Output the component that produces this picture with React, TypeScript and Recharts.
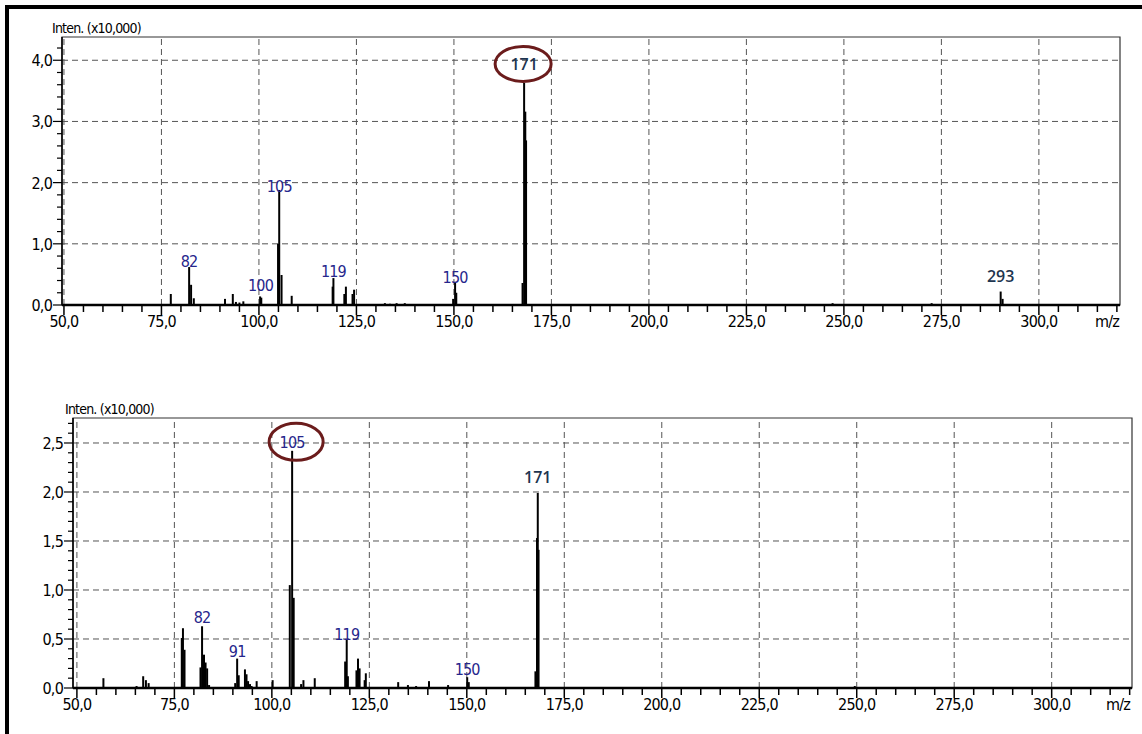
import React from 'react';
import { ComposedChart, XAxis, YAxis, Scatter, ReferenceLine, ReferenceArea } from 'recharts';

// m/z axis ticks (shared by both spectra)
const xMajorTicks = [50, 75, 100, 125, 150, 175, 200, 225, 250, 275, 300];
const xMinorTicks = [
  50, 55, 60, 65, 70, 75, 80, 85, 90, 95, 100, 105, 110, 115, 120, 125, 130, 135, 140, 145,
  150, 155, 160, 165, 170, 175, 180, 185, 190, 195, 200, 205, 210, 215, 220, 225, 230, 235,
  240, 245, 250, 255, 260, 265, 270, 275, 280, 285, 290, 295, 300, 305, 310, 315, 320,
];

// upper spectrum (Inten. x10,000)
const topYMajor = [0, 1, 2, 3, 4];
const topYTicks = [0, 0.2, 0.4, 0.6, 0.8, 1, 1.2, 1.4, 1.6, 1.8, 2, 2.2, 2.4, 2.6, 2.8, 3, 3.2, 3.4, 3.6, 3.8, 4, 4.2];
const topMz = [
  77.4, 82.1, 82.6, 83.3, 91.3, 93.3, 94.1, 95.0, 96.0, 100.3, 100.6, 104.9, 105.2, 105.8,
  108.4, 118.9, 119.1, 121.9, 122.3, 124.0, 124.4, 132.3, 133.6, 135.3, 137.4, 149.8, 150.3,
  150.6, 167.6, 168.0, 168.3, 168.5, 247.1, 272.5, 290.2, 290.7,
];
const topIntensity = [
  0.18, 0.62, 0.33, 0.11, 0.1, 0.18, 0.05, 0.04, 0.06, 0.14, 0.12, 1.0, 1.88, 0.49,
  0.15, 0.3, 0.44, 0.18, 0.3, 0.18, 0.25, 0.03, 0.02, 0.03, 0.03, 0.1, 0.36,
  0.2, 0.36, 3.63, 3.16, 2.69, 0.03, 0.03, 0.22, 0.1,
];
const topLabels = [
  { mz: 82.1, int: 0.62, text: '82', bold: false, circled: false },
  { mz: 100.4, int: 0.14, text: '100', bold: false, circled: false },
  { mz: 105.2, int: 1.88, text: '105', bold: false, circled: false },
  { mz: 119.1, int: 0.44, text: '119', bold: false, circled: false },
  { mz: 150.3, int: 0.36, text: '150', bold: false, circled: false },
  { mz: 168.0, int: 3.63, text: '171', bold: true, circled: true },
  { mz: 290.2, int: 0.22, text: '293', bold: true, circled: false },
];

// lower spectrum
const bottomYMajor = [0, 0.5, 1, 1.5, 2, 2.5];
const bottomYTicks = [
  0, 0.1, 0.2, 0.3, 0.4, 0.5, 0.6, 0.7, 0.8, 0.9, 1, 1.1, 1.2, 1.3, 1.4, 1.5, 1.6, 1.7, 1.8,
  1.9, 2, 2.1, 2.2, 2.3, 2.4, 2.5, 2.6, 2.7,
];
const bottomMz = [
  56.8, 65.3, 67.0, 67.7, 68.4, 76.9, 77.2, 77.6, 81.7, 82.1, 82.6, 83.0, 83.4, 83.9, 90.6,
  91.1, 91.5, 93.1, 93.5, 93.9, 94.4, 94.8, 96.1, 100.2, 104.6, 105.2, 105.6, 107.5, 108.1,
  111.0, 118.8, 119.2, 119.5, 121.7, 122.1, 122.5, 123.8, 124.1, 132.4, 134.9, 137.0, 140.3,
  145.2, 150.1, 150.5, 167.6, 168.0, 168.2, 168.4, 249.5,
];
const bottomIntensity = [
  0.1, 0.02, 0.12, 0.08, 0.05, 0.51, 0.61, 0.39, 0.21, 0.63, 0.34, 0.26, 0.2, 0.03, 0.05,
  0.3, 0.13, 0.19, 0.14, 0.07, 0.04, 0.02, 0.07, 0.08, 1.05, 2.42, 0.92, 0.04, 0.08,
  0.1, 0.27, 0.49, 0.12, 0.18, 0.3, 0.2, 0.08, 0.15, 0.06, 0.03, 0.02, 0.07,
  0.03, 0.11, 0.06, 0.17, 1.53, 1.99, 1.41, 0.02,
];
const bottomLabels = [
  { mz: 82.1, int: 0.63, text: '82', bold: false, circled: false },
  { mz: 91.1, int: 0.3, text: '91', bold: false, circled: false },
  { mz: 105.2, int: 2.42, text: '105', bold: false, circled: true },
  { mz: 119.2, int: 0.49, text: '119', bold: false, circled: false },
  { mz: 150.1, int: 0.11, text: '150', bold: false, circled: false },
  { mz: 168.2, int: 1.99, text: '171', bold: true, circled: false },
];

// per-label nudges (px) relative to the peak tip
const topLabelNudge: Record<string, { dy: number; ex?: number }> = {
  '82': { dy: 0 }, '100': { dy: -5 }, '105': { dy: 2 }, '119': { dy: -1 }, '150': { dy: 0 },
  '171': { dy: -13, ex: -1 }, '293': { dy: -10 },
};
const bottomLabelNudge: Record<string, { dy: number; ex?: number }> = {
  '82': { dy: -3 }, '91': { dy: -2 }, '105': { dy: -3, ex: 4 }, '119': { dy: 0 }, '150': { dy: -2 },
  '171': { dy: -10 },
};

const NARROW = '"Liberation Sans Narrow", "Arial Narrow", "DejaVu Sans Condensed", sans-serif';
const fmt = (v: number) => v.toFixed(1).replace('.', ',');

const makeXTick = () => (props: any) => {
  const { x, y, payload } = props;
  const major = xMajorTicks.includes(payload.value);
  return (
    <g>
      <line x1={x} x2={x} y1={y} y2={y + (major ? 10 : 7)} stroke="#000" strokeWidth={1.5} />
      {major && (
        <text x={x} y={y + 22} textAnchor="middle" fontFamily={NARROW} fontSize={16} letterSpacing={-0.8} fill="#000">
          {fmt(payload.value)}
        </text>
      )}
    </g>
  );
};

const makeYTick = (majors: number[]) => (props: any) => {
  const { x, y, payload } = props;
  const major = majors.some((m) => Math.abs(m - payload.value) < 1e-6);
  return (
    <g>
      <line x1={x} x2={x - (major ? 9 : 5)} y1={y} y2={y} stroke="#000" strokeWidth={1.2} />
      {major && (
        <text x={x - 10} y={y + 6} textAnchor="end" fontFamily={NARROW} fontSize={16} letterSpacing={-0.8} fill="#000">
          {fmt(payload.value)}
        </text>
      )}
    </g>
  );
};

const makeLabel = (nudge: Record<string, { dy: number; ex?: number }>, ellipse: { rx: number; ry: number }) =>
  (props: any) => {
    const { cx, cy, payload } = props;
    const n = nudge[payload.text] || { dy: 0 };
    const ty = cy + n.dy;
    return (
      <g>
        {payload.circled && (
          <ellipse cx={cx + (n.ex || 0)} cy={ty - 6} rx={ellipse.rx} ry={ellipse.ry} fill="none" stroke="#6b1c1c" strokeWidth={3} />
        )}
        <text
          x={cx}
          y={ty}
          textAnchor="middle"
          fontFamily={payload.bold ? '"Open Sans", "Noto Sans", sans-serif' : NARROW}
          fontWeight={payload.bold ? 600 : 400}
          fontSize={16}
          letterSpacing={payload.bold ? 0 : -0.8}
          fill={payload.bold ? '#1e3550' : '#26268c'}
        >
          {payload.text}
        </text>
      </g>
    );
  };

interface SpectrumProps {
  top: number;
  height: number;
  margin: { top: number; right: number; left: number; bottom: number };
  yAxisWidth: number;
  xAxisHeight: number;
  xDomain: [number, number];
  yMax: number;
  yTicks: number[];
  yMajor: number[];
  mz: number[];
  intensity: number[];
  labels: { mz: number; int: number; text: string; bold: boolean; circled: boolean }[];
  nudge: Record<string, { dy: number; ex?: number }>;
  ellipse: { rx: number; ry: number };
}

const Spectrum: React.FC<SpectrumProps> = (p) => (
  <div style={{ position: 'absolute', left: 0, top: p.top }}>
    <ComposedChart width={1142} height={p.height} data={p.labels} margin={p.margin}>
      <XAxis
        dataKey="mz"
        type="number"
        domain={p.xDomain}
        ticks={xMinorTicks}
        interval={0}
        tickSize={0}
        tickMargin={0}
        tickLine={false}
        tick={makeXTick()}
        height={p.xAxisHeight}
        axisLine={{ stroke: '#000', strokeWidth: 2.5 }}
      />
      <YAxis
        type="number"
        domain={[0, p.yMax]}
        ticks={p.yTicks}
        interval={0}
        tickSize={0}
        tickMargin={0}
        tickLine={false}
        tick={makeYTick(p.yMajor)}
        width={p.yAxisWidth}
        axisLine={{ stroke: '#000', strokeWidth: 1.5 }}
      />
      <ReferenceArea x1={p.xDomain[0]} x2={p.xDomain[1]} y1={0} y2={p.yMax} fill="none" stroke="#333" strokeWidth={1.2} />
      {xMajorTicks.map((v) => (
        <ReferenceLine key={'gx' + v} x={v} stroke="#555" strokeDasharray="6 4" strokeWidth={1} />
      ))}
      {p.yMajor.filter((v) => v > 0).map((v) => (
        <ReferenceLine key={'gy' + v} y={v} stroke="#555" strokeDasharray="6 4" strokeWidth={1} />
      ))}
      {p.mz.map((m, i) => (
        <ReferenceLine
          key={'pk' + i}
          segment={[{ x: m, y: 0 }, { x: m, y: p.intensity[i] }]}
          stroke="#000"
          strokeWidth={2}
        />
      ))}
      <Scatter dataKey="int" isAnimationActive={false} shape={makeLabel(p.nudge, p.ellipse)} />
    </ComposedChart>
  </div>
);

const textStyle: React.CSSProperties = {
  position: 'absolute',
  fontFamily: NARROW,
  letterSpacing: -0.8,
  color: '#000',
  whiteSpace: 'nowrap',
  lineHeight: 1,
};

export default function App() {
  return (
    <div style={{ position: 'fixed', left: 0, top: 0, width: 1142, height: 734, background: '#fff', overflow: 'hidden' }}>
      <div style={{ position: 'absolute', left: 5, top: 5, width: 1200, height: 800, border: '4px solid #000', boxSizing: 'border-box' }} />
      <Spectrum
        top={0}
        height={340}
        margin={{ top: 37, right: 22, left: 0, bottom: 0 }}
        yAxisWidth={62}
        xAxisHeight={35}
        xDomain={[49.5, 320.8]}
        yMax={4.38}
        yTicks={topYTicks}
        yMajor={topYMajor}
        mz={topMz}
        intensity={topIntensity}
        labels={topLabels}
        nudge={topLabelNudge}
        ellipse={{ rx: 28, ry: 17.5 }}
      />
      <Spectrum
        top={380}
        height={340}
        margin={{ top: 38, right: 10, left: 0, bottom: 0 }}
        yAxisWidth={73}
        xAxisHeight={32}
        xDomain={[49, 320.6]}
        yMax={2.755}
        yTicks={bottomYTicks}
        yMajor={bottomYMajor}
        mz={bottomMz}
        intensity={bottomIntensity}
        labels={bottomLabels}
        nudge={bottomLabelNudge}
        ellipse={{ rx: 27, ry: 18.5 }}
      />
      <div style={{ ...textStyle, left: 52, top: 21, fontSize: 14 }}>Inten. (x10,000)</div>
      <div style={{ ...textStyle, left: 65, top: 402, fontSize: 14 }}>Inten. (x10,000)</div>
      <div style={{ ...textStyle, left: 1095, top: 314, fontSize: 16 }}>m/z</div>
      <div style={{ ...textStyle, left: 1106, top: 697, fontSize: 16 }}>m/z</div>
    </div>
  );
}
